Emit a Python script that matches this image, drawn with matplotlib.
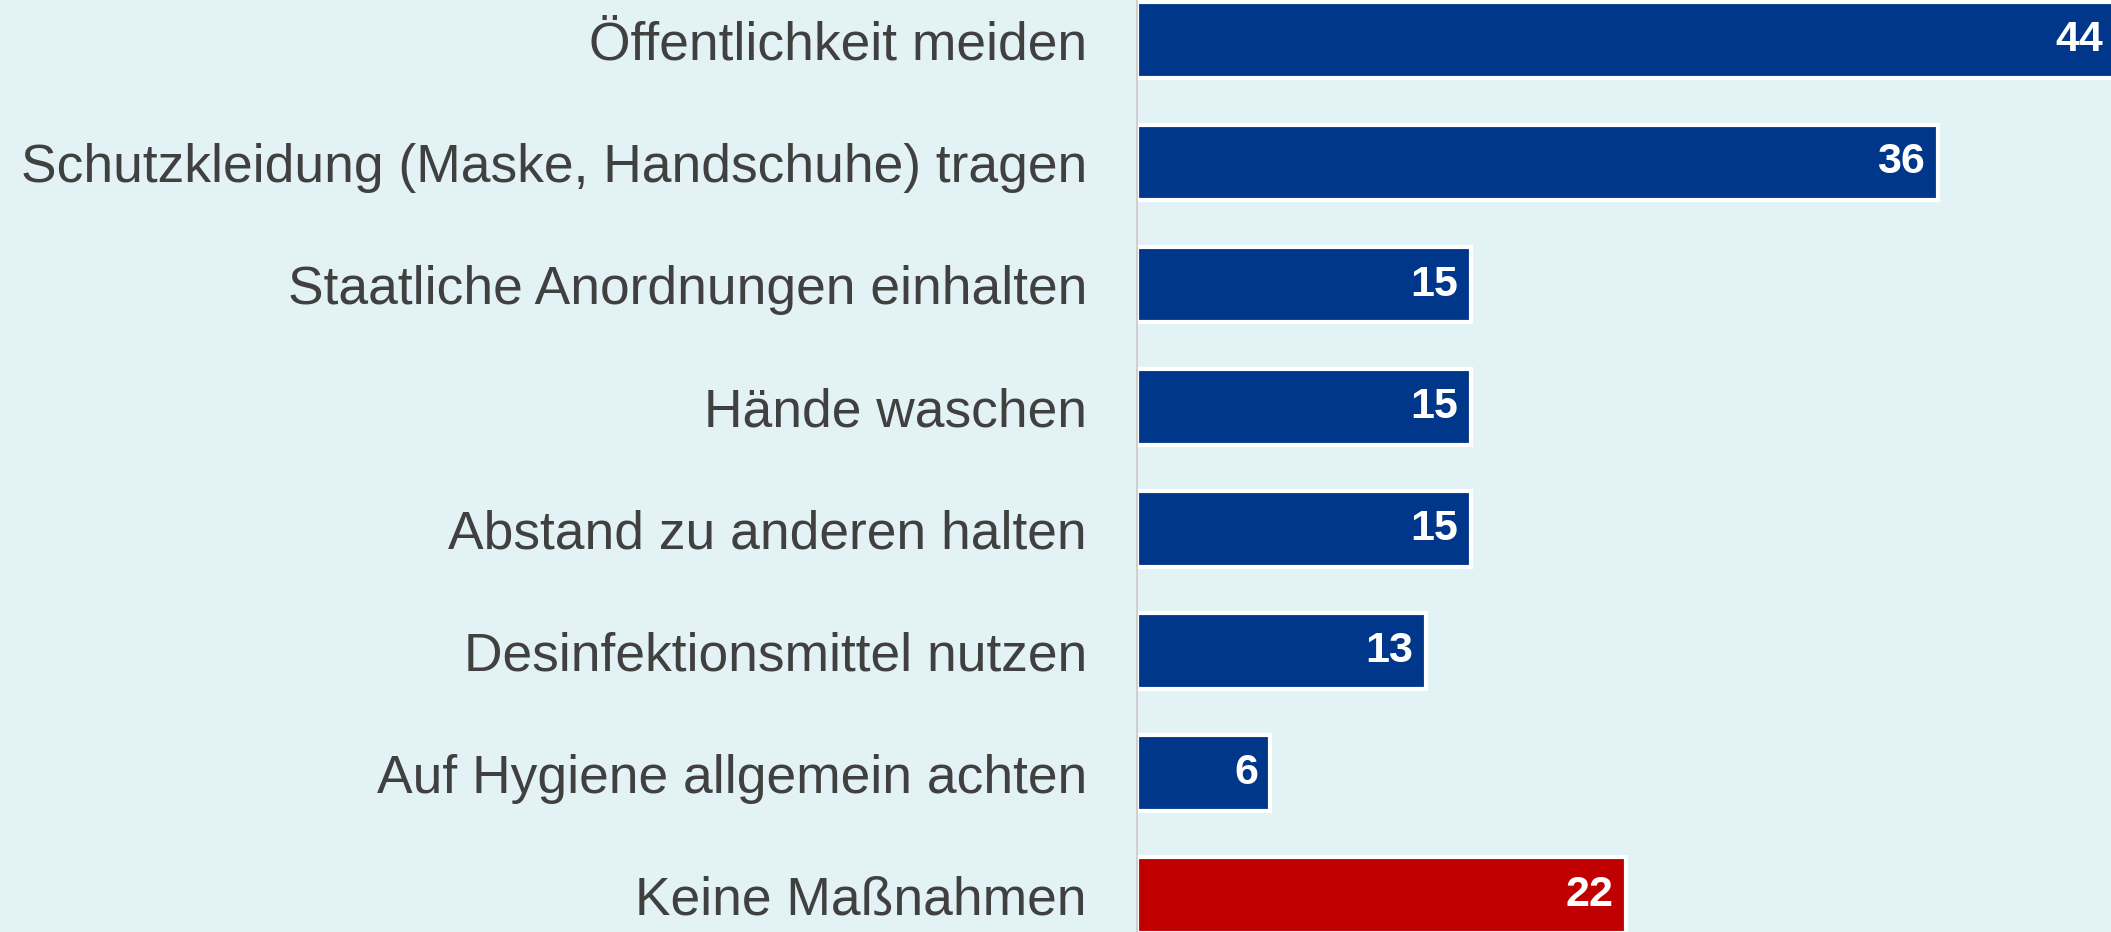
import matplotlib.pyplot as plt

plt.rcParams["font.family"] = ["Liberation Sans", "DejaVu Sans"]

labels = [
    "Öffentlichkeit meiden",
    "Schutzkleidung (Maske, Handschuhe) tragen",
    "Staatliche Anordnungen einhalten",
    "Hände waschen",
    "Abstand zu anderen halten",
    "Desinfektionsmittel nutzen",
    "Auf Hygiene allgemein achten",
    "Keine Maßnahmen",
]
values = [44, 36, 15, 15, 15, 13, 6, 22]
colors = ["#00378b"] * 7 + ["#c00000"]

bg = "#e3f2f5"
fig = plt.figure(figsize=(21.11, 9.32), dpi=100, facecolor=bg)
ax = fig.add_axes([0.5386, 0, 0.4614, 1])
ax.set_facecolor(bg)

ypos = list(range(len(values)))
ax.barh(ypos, values, height=0.62, color=colors, edgecolor="white", linewidth=3)

for y, v in zip(ypos, values):
    ax.annotate(str(v), (v, y), xytext=(-9, 0), textcoords="offset points",
                ha="right", va="center", color="white", fontsize=31,
                fontweight="bold", annotation_clip=False)

ax.set_xlim(0, 43.8)
ax.set_ylim(7.30, -0.33)
ax.set_yticks(ypos)
ax.set_yticklabels(labels, fontsize=38.4, color="#404040")
ax.tick_params(axis="y", length=0, pad=36)
ax.set_xticks([])
for side in ["top", "right", "bottom"]:
    ax.spines[side].set_visible(False)
ax.spines["left"].set_color("#d0d0d0")
ax.spines["left"].set_linewidth(1.5)

fig.savefig("out.png", dpi=100, facecolor=bg)
